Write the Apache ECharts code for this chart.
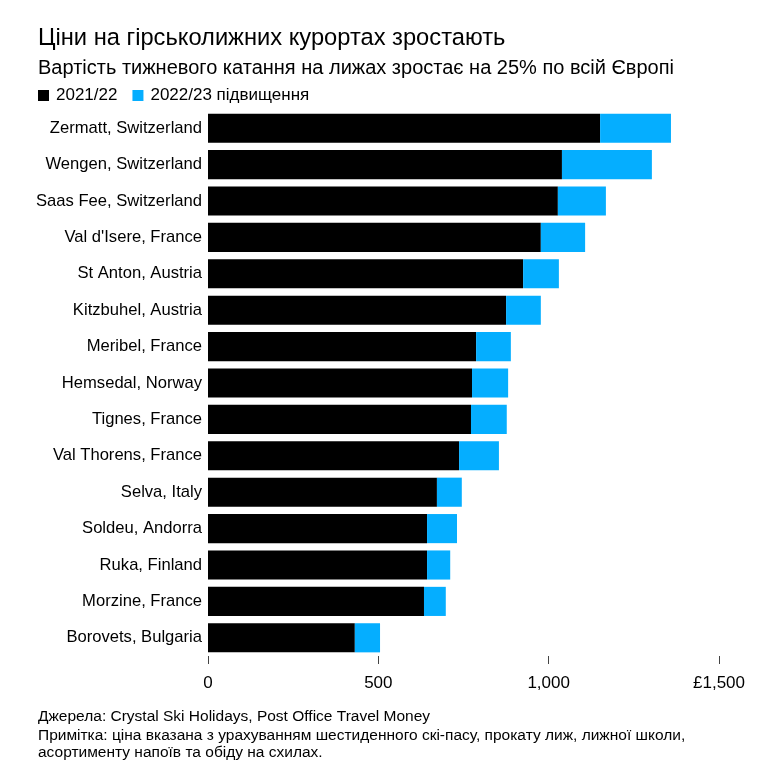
<!DOCTYPE html>
<html>
<head>
<meta charset="utf-8">
<script src="https://cdn.jsdelivr.net/npm/echarts@6/dist/echarts.min.js"></script>
<style>
  html, body { margin: 0; padding: 0; background: #fff; }
  #chart { width: 764px; height: 766px; }
</style>
</head>
<body>
<div id="chart"></div>
<script>
// курорти, зверху вниз
const resorts = [
  'Zermatt, Switzerland', 'Wengen, Switzerland', 'Saas Fee, Switzerland',
  "Val d'Isere, France", 'St Anton, Austria', 'Kitzbuhel, Austria',
  'Meribel, France', 'Hemsedal, Norway', 'Tignes, France',
  'Val Thorens, France', 'Selva, Italy', 'Soldeu, Andorra',
  'Ruka, Finland', 'Morzine, France', 'Borovets, Bulgaria'
]
// ціна 2021/22, £
const price2122 = [1151, 1039, 1027, 977, 925, 875, 787, 775, 772, 737, 672, 643, 643, 634, 431]
// підвищення у 2022/23, £
const rise2223 = [208, 264, 141, 130, 105, 102, 102, 106, 105, 117, 73, 88, 68, 64, 74]
const xTicks = { 0: '0', 500: '500', 1000: '1,000', 1500: '£1,500' }

const FONT = 'Liberation Sans'
const BLUE = '#05aeff'

let myChart = echarts.init(document.getElementById('chart'))
myChart.setOption({
  animation: false,
  textStyle: { fontFamily: FONT },
  title: [
    {
      text: 'Ціни на гірськолижних курортах зростають',
      left: 38, top: 26, padding: 0,
      textStyle: { fontFamily: FONT, fontSize: 23.7, fontWeight: 'normal', color: '#000' }
    },
    {
      text: 'Вартість тижневого катання на лижах зростає на 25% по всій Європі',
      left: 38, top: 58, padding: 0,
      textStyle: { fontFamily: FONT, fontSize: 20, fontWeight: 'normal', color: '#000' }
    }
  ],
  legend: {
    left: 38, top: 87, padding: 0,
    icon: 'rect',
    itemWidth: 11, itemHeight: 11, itemGap: 15,
    textStyle: { fontFamily: FONT, fontSize: 17, color: '#000', padding: [0, 0, 0, 2] },
    data: ['2021/22', '2022/23 підвищення']
  },
  grid: { left: 208, right: 45, top: 110, bottom: 110, containLabel: false },
  xAxis: {
    type: 'value',
    min: 0, max: 1500, interval: 500,
    splitLine: { show: false },
    axisLine: { show: false },
    axisTick: { show: true, length: 8, lineStyle: { color: '#444' } },
    axisLabel: {
      fontFamily: FONT, fontSize: 17, color: '#000', margin: 19,
      formatter: v => xTicks[v]
    }
  },
  yAxis: {
    type: 'category',
    inverse: true,
    data: resorts,
    axisLine: { show: false },
    axisTick: { show: false },
    axisLabel: { fontFamily: FONT, fontSize: 16.6, color: '#000', margin: 6 }
  },
  series: [
    {
      name: '2021/22', type: 'bar', stack: 'total',
      barCategoryGap: '20%',
      itemStyle: { color: '#000' },
      data: price2122
    },
    {
      name: '2022/23 підвищення', type: 'bar', stack: 'total',
      barCategoryGap: '20%',
      itemStyle: { color: BLUE },
      data: rise2223
    }
  ],
  graphic: [
    {
      type: 'text', left: 38, top: 709,
      style: { text: 'Джерела: Crystal Ski Holidays, Post Office Travel Money', fontFamily: FONT, fontSize: 15.5, fill: '#000' }
    },
    {
      type: 'text', left: 38, top: 727,
      style: {
        text: 'Примітка: ціна вказана з урахуванням шестиденного скі-пасу, прокату лиж, лижної школи,\nасортименту напоїв та обіду на схилах.',
        fontFamily: FONT, fontSize: 15.5, lineHeight: 17, fill: '#000'
      }
    }
  ]
})
</script>
</body>
</html>
